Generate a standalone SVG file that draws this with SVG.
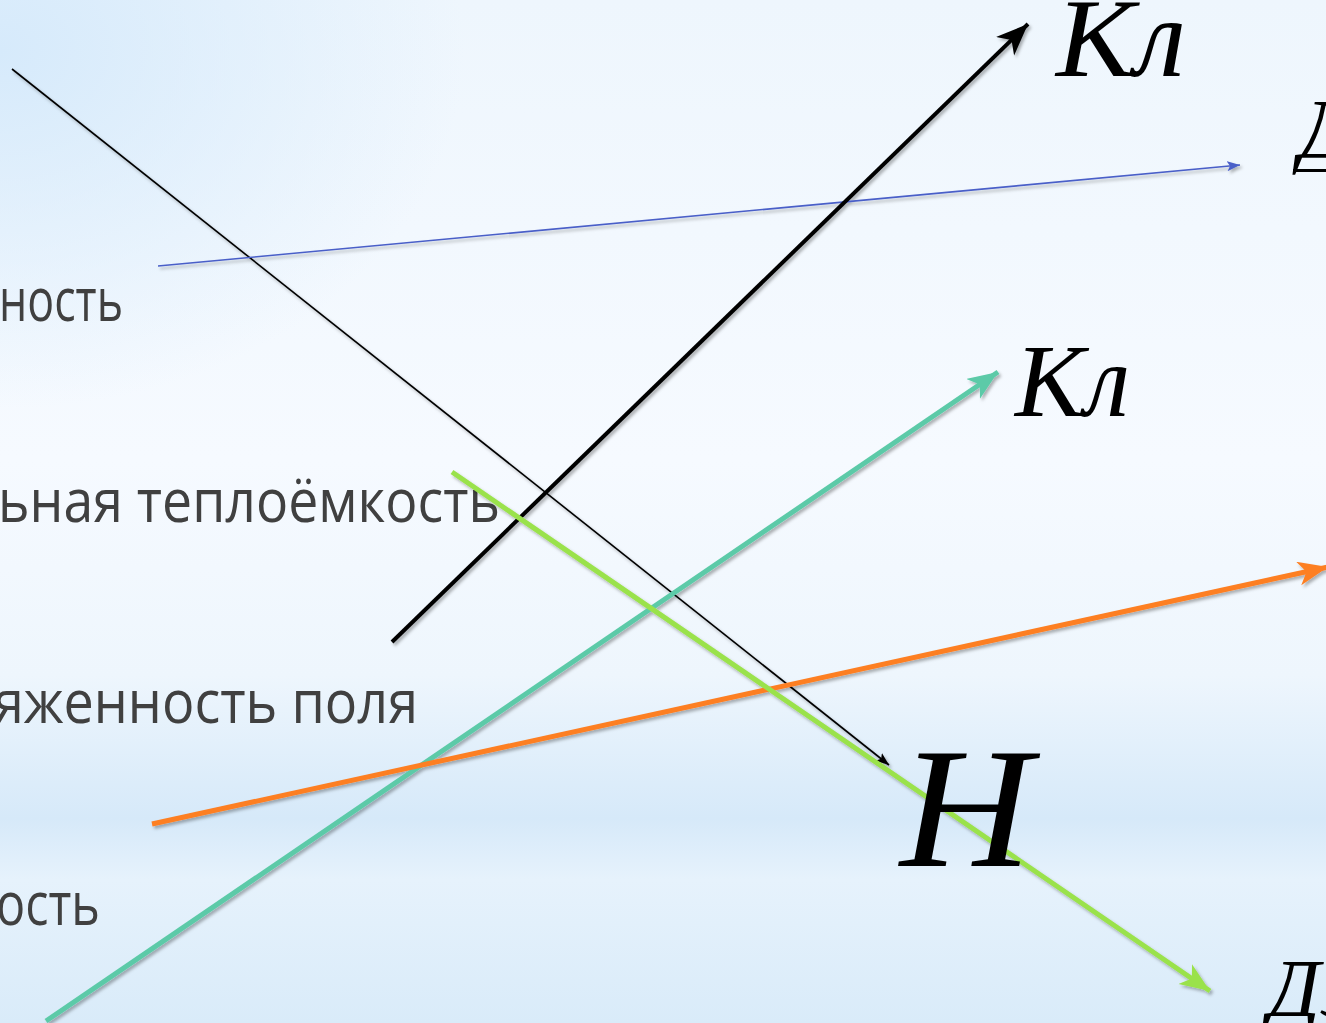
<svg xmlns="http://www.w3.org/2000/svg" width="1326" height="1023" viewBox="0 0 1326 1023">
<style>
.lbl{font-family:"Open Sans","DejaVu Sans",sans-serif;font-size:60px;fill:#404040}
.sym{font-family:"Liberation Serif","Times New Roman",serif;font-style:italic;fill:#000}
.ln{fill:none;stroke-linecap:butt}
</style>
<defs>
<linearGradient id="bg" x1="0" y1="0" x2="0" y2="1">
<stop offset="0" stop-color="#eef6fd"/>
<stop offset="0.45" stop-color="#f6faff"/>
<stop offset="0.66" stop-color="#eef6fd"/>
<stop offset="0.8" stop-color="#d6e9f9"/>
<stop offset="0.86" stop-color="#e6f2fc"/>
<stop offset="1" stop-color="#d9ebf9"/>
</linearGradient>
<radialGradient id="tl" cx="0" cy="0.05" r="0.35">
<stop offset="0" stop-color="#d6eafb" stop-opacity="1"/>
<stop offset="1" stop-color="#d6eafb" stop-opacity="0"/>
</radialGradient>
<filter id="sh" x="-5%" y="-5%" width="110%" height="110%">
<feDropShadow dx="2" dy="2.5" stdDeviation="1.5" flood-color="#000" flood-opacity="0.3"/>
</filter>
<marker id="aBlack" markerUnits="userSpaceOnUse" markerWidth="34" markerHeight="28" refX="32" refY="13" orient="auto" viewBox="0 0 34 28">
<path d="M0,0 L32,13 L0,26 L9,13 z" fill="#000"/>
</marker>
<marker id="aTeal" markerUnits="userSpaceOnUse" markerWidth="32" markerHeight="26" refX="30" refY="12" orient="auto" viewBox="0 0 32 26">
<path d="M0,0 L30,12 L0,24 L8,12 z" fill="#5ccaa8"/>
</marker>
<marker id="aOrange" markerUnits="userSpaceOnUse" markerWidth="32" markerHeight="26" refX="30" refY="12" orient="auto" viewBox="0 0 32 26">
<path d="M0,0 L30,12 L0,24 L8,12 z" fill="#fd7f23"/>
</marker>
<marker id="aGreen" markerUnits="userSpaceOnUse" markerWidth="32" markerHeight="26" refX="30" refY="12" orient="auto" viewBox="0 0 32 26">
<path d="M0,0 L30,12 L0,24 L8,12 z" fill="#9ae24c"/>
</marker>
<marker id="aThin" markerUnits="userSpaceOnUse" markerWidth="14" markerHeight="12" refX="13" refY="5" orient="auto" viewBox="0 0 14 12">
<path d="M0,0 L13,5 L0,10 L3,5 z" fill="#000"/>
</marker>
<marker id="aBlue" markerUnits="userSpaceOnUse" markerWidth="14" markerHeight="12" refX="13" refY="5" orient="auto" viewBox="0 0 14 12">
<path d="M0,0 L13,5 L0,10 L3,5 z" fill="#4a5fc8"/>
</marker>
</defs>
<rect width="1326" height="1023" fill="url(#bg)"/>
<rect width="1326" height="1023" fill="url(#tl)"/>

<g id="labels">
<g id="label-1"><text class="lbl" x="123" y="321" text-anchor="end" textLength="124" lengthAdjust="spacingAndGlyphs">ность</text></g>
<g id="label-2"><text class="lbl" x="500" y="522" text-anchor="end" textLength="502" lengthAdjust="spacingAndGlyphs">ьная теплоёмкость</text></g>
<g id="label-3"><text class="lbl" x="418" y="723" text-anchor="end" textLength="424" lengthAdjust="spacingAndGlyphs">яженность поля</text></g>
<g id="label-4"><text class="lbl" x="100" y="925" text-anchor="end" textLength="104" lengthAdjust="spacingAndGlyphs">ость</text></g>
</g>

<g id="connectors" filter="url(#sh)">
<line class="ln" x1="12" y1="69" x2="889" y2="765" stroke="#000" stroke-width="1.6" marker-end="url(#aThin)"/>
<line class="ln" x1="158" y1="266" x2="1240" y2="165" stroke="#4a5fc8" stroke-width="1.6" marker-end="url(#aBlue)"/>
<line class="ln" x1="392" y1="642" x2="1028" y2="24" stroke="#000" stroke-width="4" marker-end="url(#aBlack)"/>
<line class="ln" x1="46" y1="1021" x2="998" y2="372" stroke="#5ccaa8" stroke-width="5" marker-end="url(#aTeal)"/>
<line class="ln" x1="152" y1="824" x2="1328" y2="567" stroke="#fd7f23" stroke-width="5" marker-end="url(#aOrange)"/>
<line class="ln" x1="452" y1="472" x2="1210" y2="991" stroke="#9ae24c" stroke-width="5" marker-end="url(#aGreen)"/>
</g>

<g id="node-kl1"><text class="sym" x="1056" y="76" font-size="112" textLength="130" lengthAdjust="spacingAndGlyphs">Кл</text></g>
<g id="node-kl2"><text class="sym" x="1015" y="416" font-size="104" textLength="115" lengthAdjust="spacingAndGlyphs">Кл</text></g>
<g id="node-n"><text class="sym" x="900" y="866" font-size="172" textLength="132" lengthAdjust="spacingAndGlyphs">Н</text></g>
<g id="node-d"><text class="sym" x="1299" y="158" font-size="84">Д</text><rect x="1293" y="169" width="40" height="3" fill="#000"/></g>
<g id="node-de"><text class="sym" x="1268" y="1016" font-size="82">Дэ</text></g>
</svg>
